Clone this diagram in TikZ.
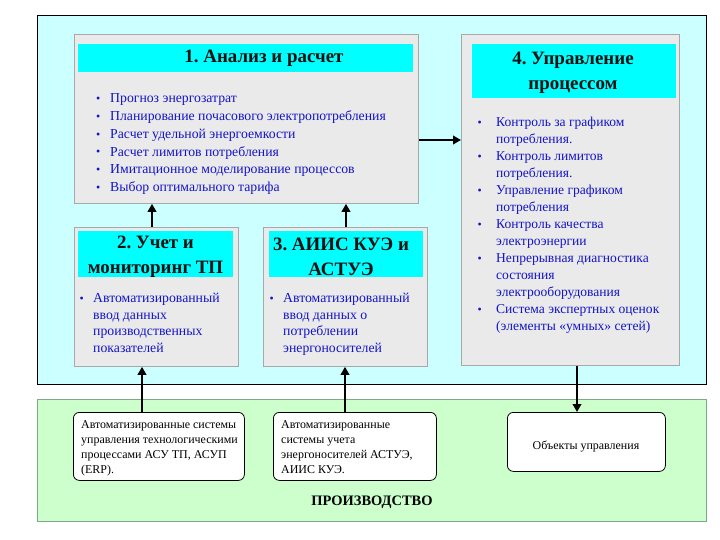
\documentclass[tikz,border=0pt]{standalone}
\usepackage{fontspec}
\setmainfont{Liberation Serif}
\usetikzlibrary{arrows.meta}
\frenchspacing
\definecolor{cyanbg}{HTML}{CCFFFF}
\definecolor{greenbg}{HTML}{CCFFCC}
\definecolor{greenln}{HTML}{7FA88A}
\definecolor{hdrcyan}{HTML}{00FFFF}
\definecolor{texgray}{HTML}{EAEAEA}
\definecolor{panelln}{HTML}{A8A8A8}
\definecolor{txtblue}{HTML}{1414C8}
\definecolor{titlecol}{HTML}{101010}
\newcommand{\bul}{\raisebox{0.3bp}{\fontsize{12}{12}\selectfont\textbullet}}
\newcommand{\blist}[2]{\begin{tabular}[t]{@{}p{#1}@{}l@{}}#2\end{tabular}}
\begin{document}
\begin{tikzpicture}[x=1bp,y=-1bp,
  panel/.style={draw=panelln,fill=texgray,line width=0.8bp,inner sep=0pt,anchor=north west},
  hdr/.style={fill=hdrcyan,draw=none,inner sep=0pt,anchor=north west},
  ttl/.style={font=\fontsize{19}{25}\selectfont\bfseries\frenchspacing,text=titlecol,align=center,inner sep=0pt},
  lst/.style={text=txtblue,inner sep=0pt,anchor=base west},
  lstA/.style={lst,font=\fontsize{13.8}{17.8}\selectfont},
  lstB/.style={lst,font=\fontsize{13.6}{17.1}\selectfont},
  lstC/.style={lst,font=\fontsize{13.8}{16.7}\selectfont},
  src/.style={draw=black,fill=white,rounded corners=6bp,line width=0.8bp,inner sep=0pt,anchor=north west},
  srctxt/.style={font=\fontsize{12}{15.3}\selectfont\frenchspacing,align=left,inner sep=0pt,anchor=north west},
  arr/.style={line width=2.6bp,-{Triangle[length=8bp,width=8.5bp]}}]
\useasboundingbox (0,0) rectangle (720,540);
\fill[white] (0,0) rectangle (720,540);
% regions
\node[draw=black,fill=cyanbg,line width=0.9bp,inner sep=0pt,anchor=north west,minimum width=669bp,minimum height=369bp] (sys) at (37,15) {};
\node[draw=greenln,fill=greenbg,line width=0.9bp,inner sep=0pt,anchor=north west,minimum width=669bp,minimum height=122bp] (prod) at (37,399) {};
\node[font=\fontsize{14.5}{16}\selectfont\bfseries,inner sep=0pt] (prodlbl) at (372,502) {ПРОИЗВОДСТВО};
% panels
\node[panel,minimum width=344bp,minimum height=169bp] (b1) at (74,34) {};
\node[hdr,minimum width=335bp,minimum height=28bp] (h1) at (78,44) {};
\node[panel,minimum width=218bp,minimum height=331bp] (b4) at (461,34) {};
\node[hdr,minimum width=204bp,minimum height=54bp] (h4) at (472,44) {};
\node[panel,minimum width=164bp,minimum height=139bp] (b2) at (74,227) {};
\node[hdr,minimum width=155bp,minimum height=46bp] (h2) at (78,231) {};
\node[panel,minimum width=164bp,minimum height=139bp] (b3) at (263,227) {};
\node[hdr,minimum width=154bp,minimum height=46bp] (h3) at (269,231) {};
% titles
\node[ttl] (t1) at (264,58) {1. Анализ и расчет};
\node[ttl] (t4) at (573,73) {4. Управление\\процессом};
\node[ttl] (t2) at (155.5,257) {2. Учет и\\мониторинг ТП};
\node[ttl] (t3) at (341,257) {3. АИИС КУЭ и\\АСТУЭ};
% lists
\node[lstA] (l1) at (96,103) {\blist{14bp}{%
\bul & Прогноз энергозатрат\\
\bul & Планирование почасового электропотребления\\
\bul & Расчет удельной энергоемкости\\
\bul & Расчет лимитов потребления\\
\bul & Имитационное моделирование процессов\\
\bul & Выбор оптимального тарифа}};
\node[lstB] (l4) at (477.5,126.5) {\blist{18.5bp}{%
\bul & Контроль за графиком\\
 & потребления.\\
\bul & Контроль лимитов\\
 & потребления.\\
\bul & Управление графиком\\
 & потребления\\
\bul & Контроль качества\\
 & электроэнергии\\
\bul & Непрерывная диагностика\\
 & состояния\\
 & электрооборудования\\
\bul & Система экспертных оценок\\
 & (элементы «умных» сетей)}};
\node[lstC] (l2) at (79.5,302.5) {\blist{13.5bp}{%
\bul & Автоматизированный\\
 & ввод данных\\
 & производственных\\
 & показателей}};
\node[lstC] (l3) at (269.5,302.5) {\blist{13.5bp}{%
\bul & Автоматизированный\\
 & ввод данных о\\
 & потреблении\\
 & энергоносителей}};
% source boxes
\node[src,minimum width=171bp,minimum height=68bp] (sA) at (73,412) {};
\node[srctxt] (sAt) at (81,420) {Автоматизированные системы\\управления технологическими\\процессами АСУ ТП, АСУП\\(ERP).};
\node[src,minimum width=163bp,minimum height=68bp] (sB) at (273,412) {};
\node[srctxt] (sBt) at (281,420) {Автоматизированные\\системы учета\\энергоносителей АСТУЭ,\\АИИС КУЭ.};
\node[src,minimum width=158bp,minimum height=59bp] (sC) at (507,412) {};
\node[font=\fontsize{12}{14}\selectfont,inner sep=0pt] (sCt) at (586,447) {Объекты управления};
% connectors
\draw[arr] (sA.north -| 142,0) -- (b2.south -| 142,0);
\draw[arr] (sB.north -| 345,0) -- (b3.south -| 345,0);
\draw[arr] (b2.north -| 152,0) -- (b1.south -| 152,0);
\draw[arr] (b3.north -| 346,0) -- (b1.south -| 346,0);
\draw[arr] (b1.east |- 0,140) -- (b4.west |- 0,140);
\draw[arr] (b4.south -| 577,0) -- (sC.north -| 577,0);
\end{tikzpicture}
\end{document}
